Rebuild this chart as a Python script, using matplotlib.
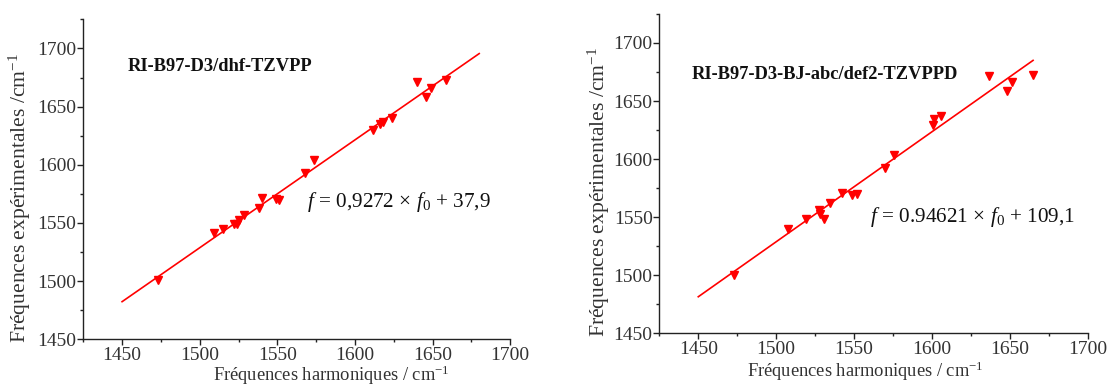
import matplotlib
matplotlib.use("Agg")
import matplotlib.pyplot as plt
import numpy as np
from matplotlib.ticker import MultipleLocator

# ---- data ----
harm_left = [1473.4, 1509.5, 1515.0, 1522.0, 1524.0, 1525.0, 1528.3, 1538.4, 1540.2,
             1549.0, 1551.2, 1568.0, 1573.5, 1611.8, 1616.0, 1617.8, 1623.8, 1639.9,
             1645.6, 1649.0, 1658.4]
exp_left = [1501.0, 1541.0, 1545.0, 1549.0, 1549.0, 1552.5, 1556.8, 1562.5, 1571.7,
            1570.6, 1569.4, 1592.6, 1604.0, 1629.8, 1634.7, 1637.0, 1640.0, 1671.4,
            1658.5, 1666.2, 1672.5]
fit_left_slope = 0.9272
fit_left_intercept = 137.9
fit_left_range = [1450, 1680]

harm_right = [1472.7, 1507.6, 1519.4, 1527.5, 1528.4, 1530.7, 1534.8, 1542.0, 1548.8,
              1552.0, 1570.1, 1575.6, 1601.0, 1601.6, 1606.0, 1636.5, 1648.1, 1651.5,
              1665.0]
exp_right = [1500.7, 1540.0, 1548.6, 1556.0, 1553.2, 1548.6, 1562.4, 1571.3, 1569.3,
             1570.4, 1592.5, 1604.0, 1629.8, 1634.6, 1637.2, 1671.3, 1658.4, 1666.2,
             1672.5]
fit_right_slope = 0.94621
fit_right_intercept = 109.6
fit_right_range = [1450, 1665]

titles = ["RI-B97-D3/dhf-TZVPP", "RI-B97-D3-BJ-abc/def2-TZVPPD"]
equations = [r"$f$ = 0,9272 × $f_{\mathit{0}}$ + 37,9", r"$f$ = 0.94621 × $f_{\mathit{0}}$ + 109,1"]
xlabel = "Fréquences harmoniques / cm$^{\\mathregular{-1}}$"
ylabel = "Fréquences expérimentales /cm$^{\\mathregular{-1}}$"
x_ticks = [1450, 1500, 1550, 1600, 1650, 1700]
y_ticks = [1450, 1500, 1550, 1600, 1650, 1700]

plt.rcParams['font.family'] = ['Liberation Serif', 'DejaVu Serif']
plt.rcParams['mathtext.fontset'] = 'custom'
plt.rcParams['mathtext.rm'] = 'Liberation Serif'
plt.rcParams['mathtext.it'] = 'Liberation Serif:italic'

fig = plt.figure(figsize=(11.1, 3.85), dpi=100)
axL = fig.add_axes([0.0750, 0.1187, 0.3847, 0.831])
axR = fig.add_axes([0.5940, 0.1338, 0.3858, 0.830])

panels = [
    (axL, harm_left, exp_left, fit_left_slope, fit_left_intercept, fit_left_range,
     titles[0], equations[0], (0.105, 0.854), (0.524, 0.429),
     (0.582, -0.111), (-0.149, 0.443)),
    (axR, harm_right, exp_right, fit_right_slope, fit_right_intercept, fit_right_range,
     titles[1], equations[1], (0.0754, 0.809), (0.493, 0.366),
     (0.482, -0.118), (-0.142, 0.444)),
]

for ax, hx, ey, s, b, rng, title, eq, tpos, epos, xlpos, ylpos in panels:
    xs = np.array(rng, dtype=float)
    ax.plot(xs, s * xs + b, color='#ff0000', lw=1.2, zorder=2)
    ax.plot(hx, ey, linestyle='none', marker='v', color='#ff0000', markersize=6, zorder=3)
    ax.set_xlim(1425, 1700)
    ax.set_ylim(1450, 1725)
    ax.set_xticks(x_ticks)
    ax.set_yticks(y_ticks)
    ax.xaxis.set_minor_locator(MultipleLocator(25))
    ax.yaxis.set_minor_locator(MultipleLocator(25))
    ax.spines['top'].set_visible(False)
    ax.spines['right'].set_visible(False)
    for sp in ['left', 'bottom']:
        ax.spines[sp].set_color('#222222')
        ax.spines[sp].set_linewidth(1.0)
    ax.tick_params(which='major', direction='out', length=4.3, width=1, labelsize=14,
                   color='#222222', labelcolor='#333333')
    ax.tick_params(axis='y', which='major', pad=0.5)
    ax.tick_params(axis='x', which='major', pad=1.0)
    ax.tick_params(which='minor', direction='out', length=2.3, width=1, color='#222222')
    ax.set_xlabel(xlabel, fontsize=13.3, color='#333333')
    ax.set_ylabel(ylabel, fontsize=15.6, color='#333333')
    ax.xaxis.set_label_coords(*xlpos)
    ax.yaxis.set_label_coords(*ylpos)
    ax.xaxis.label.set_va('center')
    ax.yaxis.label.set_va('center')
    ax.text(tpos[0], tpos[1], title, transform=ax.transAxes, fontsize=13.3,
            fontweight='bold', va='center', ha='left', color='#111111')
    ax.text(epos[0], epos[1], eq, transform=ax.transAxes, fontsize=15.3,
            va='center', ha='left', color='#111111')

fig.savefig("out.png", dpi=100)
